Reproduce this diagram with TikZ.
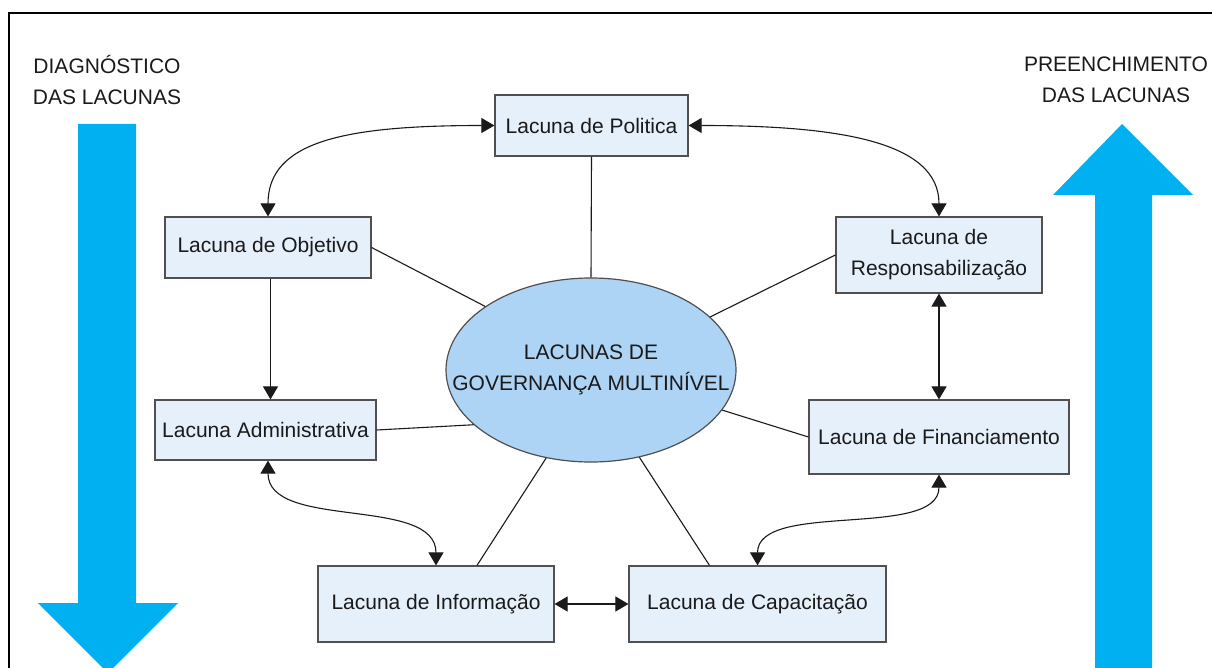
\documentclass[tikz,border=0pt]{standalone}
\usepackage{fontspec}
\setmainfont{Liberation Sans}
\usetikzlibrary{shapes.geometric,arrows.meta,calc}
\definecolor{bigarrow}{HTML}{00B0F0}
\definecolor{boxfill}{HTML}{E6F0FB}
\definecolor{boxdraw}{HTML}{505050}
\definecolor{ellfill}{HTML}{ADD3F5}
\definecolor{txt}{HTML}{1A1A1A}
\tikzset{
  gapbox/.style={draw=boxdraw,fill=boxfill,line width=1.2pt,inner sep=0pt,align=center,
    text=txt,font=\fontsize{21}{31}\selectfont},
  gapell/.style={ellipse,draw=boxdraw,fill=ellfill,line width=1.2pt,inner sep=0pt,
    minimum width=290pt,minimum height=184pt},
  elltext/.style={align=center,text=txt,font=\fontsize{21}{31}\selectfont,inner sep=0pt},
  sidelabel/.style={align=center,text=txt,font=\fontsize{21}{31}\selectfont,inner sep=0pt},
  link/.style={draw=txt,line width=1.1pt},
  dbl/.style={draw=txt,line width=1.1pt,{Triangle[length=13pt,width=15pt]}-{Triangle[length=13pt,width=15pt]}},
  sgl/.style={draw=txt,line width=1.1pt,-{Triangle[length=13pt,width=15pt]}},
}
\begin{document}
\begin{tikzpicture}[x=1pt,y=-1pt]
\useasboundingbox (0,0) rectangle (1212,668);
\clip (0,0) rectangle (1212,668);
% frame
\draw[line width=2pt,black] (9,680) -- (9,13) -- (1220,13);
% big arrows
\fill[bigarrow] (78,124) -- (136,124) -- (136,603) -- (178,603) -- (108,673) -- (38,603) -- (78,603) -- cycle;
\fill[bigarrow] (1095,680) -- (1095,195) -- (1053,195) -- (1122,124) -- (1193,195) -- (1152,195) -- (1152,680) -- cycle;
\node[sidelabel] (diag) at (107,80) {DIAGNÓSTICO\\DAS LACUNAS};
\node[sidelabel] (pree) at (1116,80) {PREENCHIMENTO\\DAS LACUNAS};
% nodes
\node[gapell] (ell) at (591,370) {};
\node[elltext] (elltxt) at (ell.center) {LACUNAS DE\\GOVERNANÇA MULTINÍVEL};
\node[gapbox,minimum width=193pt,minimum height=61pt] (pol) at (591.5,125.5) {Lacuna de Politica};
\node[gapbox,minimum width=206pt,minimum height=61pt] (obj) at (268,247.5) {Lacuna de Objetivo};
\node[gapbox,minimum width=206pt,minimum height=76pt] (resp) at (939,255) {Lacuna de\\Responsabilização};
\node[gapbox,minimum width=221pt,minimum height=60pt] (adm) at (265.5,430) {Lacuna Administrativa};
\node[gapbox,minimum width=260pt,minimum height=74pt] (fin) at (939,437) {Lacuna de Financiamento};
\node[gapbox,minimum width=236pt,minimum height=76pt] (info) at (436,604) {Lacuna de Informação};
\node[gapbox,minimum width=257pt,minimum height=76pt] (cap) at (757.5,604) {Lacuna de Capacitação};
% spokes
\draw[link] (pol.south) -- (ell.north);
\draw[link] (obj.east) -- (ell.149);
\draw[link] (resp.west) -- (ell.24);
\draw[link] (adm.east) -- (ell.205);
\draw[link] (fin.west) -- (ell.343);
\draw[link] ([xshift=41pt]info.north) -- (ell.243);
\draw[link] ([xshift=-48pt]cap.north) -- (ell.299);
% arrows between gaps
\draw[dbl] (obj.north) .. controls +(0,-75) and +(-150,0) .. (pol.west);
\draw[dbl] (pol.east) .. controls +(150,0) and +(0,-75) .. (resp.north);
\draw[sgl] ([xshift=2.5pt]obj.south) -- ([xshift=2.5pt]obj.south |- adm.north);
\draw[dbl] (resp.south) -- (fin.north);
\draw[dbl] ([xshift=2.5pt]adm.south) .. controls +(0,70) and +(0,-70) .. (info.north);
\draw[dbl] (fin.south) .. controls +(0,65) and +(0,-65) .. (cap.north);
\draw[dbl] (info.east) -- (cap.west);
\end{tikzpicture}
\end{document}
